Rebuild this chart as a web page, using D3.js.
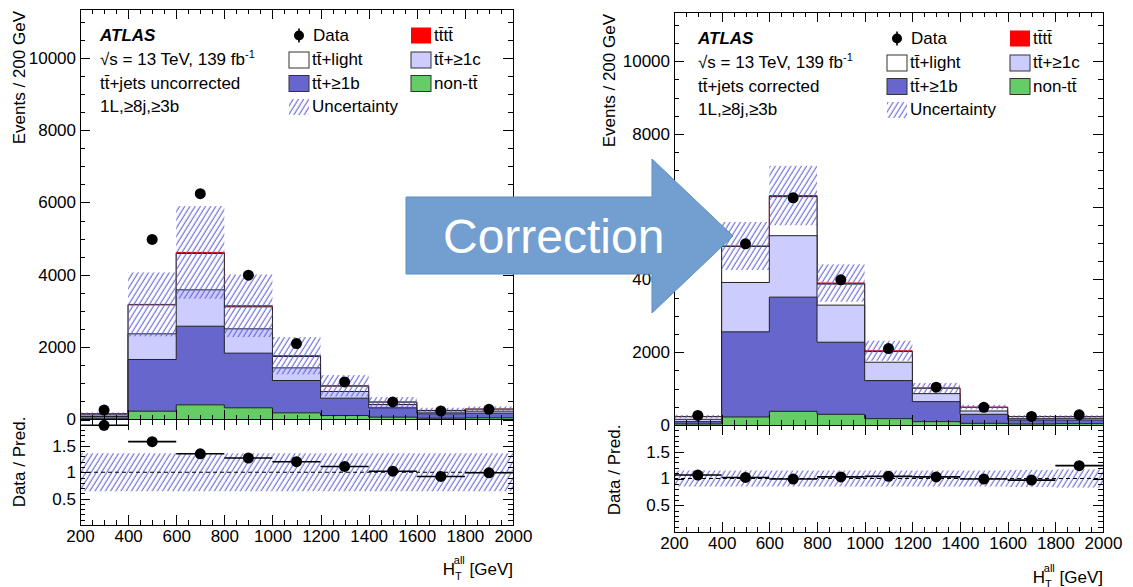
<!DOCTYPE html>
<html>
<head>
<meta charset="utf-8">
<script src="https://cdn.jsdelivr.net/npm/d3@7"></script>
<style>
body { margin: 0; background: #fff; }
svg { display: block; font-family: "Liberation Sans", Arial, sans-serif; }
</style>
</head>
<body>
<script>
// bins of H_T^all [GeV]
var binEdges = [200, 400, 600, 800, 1000, 1200, 1400, 1600, 1800, 2000];
var dataEvents = [262, 4980, 6245, 3990, 2100, 1040, 487, 235, 280];

// uncorrected prediction (events per bin, each component)
var nonttUnc   = [18, 230, 405, 323, 184, 110, 65, 37, 46];
var tt1bUnc    = [65, 1429, 2175, 1511, 894, 480, 258, 120, 129];
var tt1cUnc    = [46, 710, 1005, 673, 350, 184, 92, 46, 55];
var ttlightUnc = [28, 801, 1005, 608, 314, 148, 64, 46, 56];
var ttttUnc    = [2, 12, 30, 30, 22, 10, 5, 3, 3];
var errUnc     = [37, 885, 1280, 866, 516, 295, 138, 74, 74];
var ratioUnc   = [1.89, 1.58, 1.35, 1.27, 1.20, 1.11, 1.02, 0.92, 0.99];
var ratioErrUnc = [0.10, 0.03, 0.02, 0.02, 0.03, 0.04, 0.05, 0.07, 0.07];
var bandUnc    = [0.36, 0.36, 0.36, 0.36, 0.36, 0.36, 0.36, 0.36, 0.36];

// corrected prediction
var nonttCor   = [28, 220, 376, 294, 174, 92, 46, 28, 37];
var tt1bCor    = [64, 2340, 3138, 1981, 1046, 550, 248, 110, 101];
var tt1cCor    = [64, 1357, 1688, 1019, 505, 220, 91, 36, 45];
var ttlightCor = [73, 991, 1073, 578, 293, 147, 101, 55, 46];
var ttttCor    = [2, 12, 30, 30, 22, 10, 5, 3, 3];
var errCor     = [46, 661, 817, 513, 276, 138, 64, 37, 37];
var ratioCor   = [1.065, 1.02, 0.99, 1.03, 1.04, 1.03, 0.99, 0.97, 1.24];
var ratioErrCor = [0.02, 0.02, 0.02, 0.02, 0.03, 0.04, 0.05, 0.07, 0.07];
var bandCor    = [0.15, 0.15, 0.15, 0.15, 0.15, 0.15, 0.15, 0.16, 0.17];

var xTicks = [200, 400, 600, 800, 1000, 1200, 1400, 1600, 1800, 2000];
var yTicks = [0, 2000, 4000, 6000, 8000, 10000];
var rTicks = [0.5, 1, 1.5];

var colors = ["#66cc66", "#6666cc", "#ccccff", "#ffffff", "#ff0000"];

var svg = d3.select("body").append("svg")
	.attr("width", 1133)
	.attr("height", 587);

// hatch for uncertainty
svg.append("defs").append("pattern")
	.attr("id", "hatch")
	.attr("patternUnits", "userSpaceOnUse")
	.attr("width", 4.4).attr("height", 10)
	.attr("patternTransform", "rotate(32)")
	.append("line")
	.attr("x1", 2).attr("y1", -1).attr("x2", 2).attr("y2", 11)
	.attr("stroke", "#5858d8").attr("stroke-width", 1);

function drawPanel(p, comps, err, ratio, ratioErr, band) {
	var g = svg.append("g");
	var x = d3.scaleLinear().domain([200, 2000]).range([p.x0, p.x1]);
	var y = d3.scaleLinear().domain([0, 11350]).range([p.mid, p.top]);
	var yr = d3.scaleLinear().domain([0, 2]).range([p.bot, p.mid]);

	var clipId = "clip" + p.x0;
	svg.select("defs").append("clipPath").attr("id", clipId)
		.append("rect").attr("x", p.x0).attr("y", p.top)
		.attr("width", p.x1 - p.x0).attr("height", p.mid - p.top);

	// cumulative stack
	var cum = [];
	var run = binEdges.slice(1).map(function() { return 0; });
	comps.forEach(function(c) {
		run = run.map(function(v, i) { return v + c[i]; });
		cum.push(run.slice());
	});
	var total = cum[cum.length - 1];

	var area = d3.area().curve(d3.curveStepAfter)
		.x(function(d, i) { return x(binEdges[i]); })
		.y0(y(0))
		.y1(function(d) { return y(d); });
	var line = d3.line().curve(d3.curveStepAfter)
		.x(function(d, i) { return x(binEdges[i]); })
		.y(function(d) { return y(d); });

	var main = g.append("g").attr("clip-path", "url(#" + clipId + ")");
	for (var k = cum.length - 1; k >= 0; k--) {
		var vals = cum[k].concat([cum[k][cum[k].length - 1]]);
		main.append("path").attr("d", area(vals)).attr("fill", colors[k]);
		main.append("path").attr("d", line(vals)).attr("fill", "none")
			.attr("stroke", k == 4 ? "#e00000" : "#222").attr("stroke-width", 1);
	}
	// uncertainty
	main.selectAll("rect.unc").data(total).enter().append("rect")
		.attr("x", function(d, i) { return x(binEdges[i]); })
		.attr("width", function(d, i) { return x(binEdges[i + 1]) - x(binEdges[i]); })
		.attr("y", function(d, i) { return y(d + err[i]); })
		.attr("height", function(d, i) { return y(d - err[i]) - y(d + err[i]); })
		.attr("fill", "url(#hatch)");
	// data
	main.selectAll("circle").data(dataEvents).enter().append("circle")
		.attr("cx", function(d, i) { return x((binEdges[i] + binEdges[i + 1]) / 2); })
		.attr("cy", function(d) { return y(d); })
		.attr("r", 5.5).attr("fill", "#000");

	// ratio panel
	var rp = g.append("g");
	rp.selectAll("rect").data(band).enter().append("rect")
		.attr("x", function(d, i) { return x(binEdges[i]); })
		.attr("width", function(d, i) { return x(binEdges[i + 1]) - x(binEdges[i]); })
		.attr("y", function(d) { return yr(1 + d); })
		.attr("height", function(d) { return yr(1 - d) - yr(1 + d); })
		.attr("fill", "url(#hatch)");
	rp.append("line").attr("x1", x(200)).attr("x2", x(2000))
		.attr("y1", yr(1)).attr("y2", yr(1))
		.attr("stroke", "#000").attr("stroke-dasharray", "4,3");
	rp.selectAll("line.hb").data(ratio).enter().append("line")
		.attr("x1", function(d, i) { return x(binEdges[i]); })
		.attr("x2", function(d, i) { return x(binEdges[i + 1]); })
		.attr("y1", function(d) { return yr(d); })
		.attr("y2", function(d) { return yr(d); })
		.attr("stroke", "#000").attr("stroke-width", 1.6);
	rp.selectAll("line.vb").data(ratio).enter().append("line")
		.attr("x1", function(d, i) { return x((binEdges[i] + binEdges[i + 1]) / 2); })
		.attr("x2", function(d, i) { return x((binEdges[i] + binEdges[i + 1]) / 2); })
		.attr("y1", function(d, i) { return yr(Math.min(2, d + ratioErr[i])); })
		.attr("y2", function(d, i) { return yr(d - ratioErr[i]); })
		.attr("stroke", "#000").attr("stroke-width", 1.6);
	rp.selectAll("circle").data(ratio).enter().append("circle")
		.attr("cx", function(d, i) { return x((binEdges[i] + binEdges[i + 1]) / 2); })
		.attr("cy", function(d) { return yr(d); })
		.attr("r", 5.5).attr("fill", "#000");

	// axes
	var minorX = d3.range(200, 2001, 50).filter(function(v) { return v % 200 != 0; });
	var minorY = d3.range(0, 11350, 500).filter(function(v) { return v % 2000 != 0; });
	var minorR = d3.range(0.1, 2, 0.1).filter(function(v) { return Math.abs(v * 2 - Math.round(v * 2)) > 0.01; });

	function ax(axis, tx, ty, vals, size, labels, pad) {
		var a = axis.tickValues(vals).tickSizeInner(size).tickSizeOuter(0).tickPadding(pad || 4);
		if (!labels) a.tickFormat("");
		else a.tickFormat(labels);
		var sel = g.append("g").attr("transform", "translate(" + tx + "," + ty + ")").call(a);
		sel.select(".domain").remove();
		sel.attr("font-size", 17).attr("font-family", null);
		sel.selectAll("line").attr("stroke", "#000").attr("shape-rendering", "crispEdges");
		return sel;
	}
	var fmtR = function(d) { return d == 1 ? "1" : d3.format(".1f")(d); };
	// main panel
	ax(d3.axisLeft(y), p.x0, 0, yTicks, -10, d3.format("d"), 4);
	ax(d3.axisLeft(y), p.x0, 0, minorY, -5);
	ax(d3.axisRight(y), p.x1, 0, yTicks, -10);
	ax(d3.axisRight(y), p.x1, 0, minorY, -5);
	ax(d3.axisTop(x), 0, p.top, xTicks, -10);
	ax(d3.axisTop(x), 0, p.top, minorX, -5);
	ax(d3.axisBottom(x), 0, p.mid, xTicks, -10);
	ax(d3.axisBottom(x), 0, p.mid, minorX, -5);
	// ratio panel
	ax(d3.axisLeft(yr), p.x0, 0, rTicks, -10, fmtR, 4);
	ax(d3.axisLeft(yr), p.x0, 0, minorR, -5);
	ax(d3.axisRight(yr), p.x1, 0, rTicks, -10);
	ax(d3.axisRight(yr), p.x1, 0, minorR, -5);
	ax(d3.axisTop(x), 0, p.mid, xTicks, -10);
	ax(d3.axisTop(x), 0, p.mid, minorX, -5);
	ax(d3.axisBottom(x), 0, p.bot, xTicks, -10, d3.format("d"), 5);
	ax(d3.axisBottom(x), 0, p.bot, minorX, -5);

	// frames
	g.append("rect").attr("x", p.x0).attr("y", p.top)
		.attr("width", p.x1 - p.x0).attr("height", p.bot - p.top)
		.attr("fill", "none").attr("stroke", "#000").attr("shape-rendering", "crispEdges");
	g.append("line").attr("x1", p.x0).attr("x2", p.x1).attr("y1", p.mid).attr("y2", p.mid)
		.attr("stroke", "#000").attr("shape-rendering", "crispEdges");

	// axis titles
	g.append("text").attr("transform", "translate(" + p.ylx + "," + (p.top + 2) + ") rotate(-90)")
		.attr("text-anchor", "end").attr("font-size", 17).text("Events / 200 GeV");
	g.append("text").attr("transform", "translate(" + p.rlx + "," + p.rly + ") rotate(-90)")
		.attr("text-anchor", "middle").attr("font-size", 17).text("Data / Pred.");
	var xt = g.append("text").attr("x", p.x1).attr("y", p.xty)
		.attr("text-anchor", "end").attr("font-size", 17);
	xt.append("tspan").text("H");
	xt.append("tspan").attr("font-size", 11).attr("dy", 5).text("T");
	xt.append("tspan").attr("font-size", 11).attr("dx", -6.7).attr("dy", -16).text("all");
	xt.append("tspan").attr("dy", 11).text(" [GeV]");

	// labels and legend
	var lg = g.append("g").attr("font-size", 17);
	lg.append("text").attr("x", p.tx).attr("y", p.rows[0])
		.attr("font-weight", "bold").attr("font-style", "italic").text("ATLAS");
	var s = lg.append("text").attr("x", p.tx).attr("y", p.rows[1]);
	s.append("tspan").text("\u221As = 13 TeV, 139 fb");
	s.append("tspan").attr("font-size", 11).attr("dy", -7).text("-1");
	lg.append("text").attr("x", p.tx).attr("y", p.rows[2]).text(p.title);
	lg.append("text").attr("x", p.tx).attr("y", p.rows[3]).text("1L,\u22658j,\u22653b");

	// legend entries
	lg.append("line").attr("x1", p.c1 + 10).attr("x2", p.c1 + 10)
		.attr("y1", p.rows[0] - 12).attr("y2", p.rows[0] + 2).attr("stroke", "#000").attr("stroke-width", 1.6);
	lg.append("circle").attr("cx", p.c1 + 10).attr("cy", p.rows[0] - 5).attr("r", 5).attr("fill", "#000");
	lg.append("text").attr("x", p.c1 + 24).attr("y", p.rows[0]).text("Data");
	var entries = [
		{c: 0, r: 1, fill: colors[3], t: "tt\u0304+light"},
		{c: 0, r: 2, fill: colors[1], t: "tt\u0304+\u22651b"},
		{c: 0, r: 3, fill: "url(#hatch)", t: "Uncertainty", nostroke: true},
		{c: 1, r: 0, fill: colors[4], t: "tt\u0304tt\u0304", nostroke: true},
		{c: 1, r: 1, fill: colors[2], t: "tt\u0304+\u22651c"},
		{c: 1, r: 2, fill: colors[0], t: "non-tt\u0304"}
	];
	entries.forEach(function(e) {
		var bx = e.c == 0 ? p.c1 : p.c2;
		lg.append("rect").attr("x", bx).attr("y", p.rows[e.r] - 13)
			.attr("width", 20).attr("height", 16)
			.attr("fill", e.fill).attr("stroke", e.nostroke ? "none" : "#333");
		lg.append("text").attr("x", bx + 23).attr("y", p.rows[e.r]).text(e.t);
	});
}

drawPanel(
	{x0: 80, x1: 513, top: 9, mid: 419.5, bot: 525, ylx: 25, rlx: 25, rly: 462, xty: 575,
	 tx: 100, rows: [40.5, 65, 88.5, 112], c1: 289, c2: 411, title: "tt\u0304+jets uncorrected"},
	[nonttUnc, tt1bUnc, tt1cUnc, ttlightUnc, ttttUnc], errUnc, ratioUnc, ratioErrUnc, bandUnc);

drawPanel(
	{x0: 674, x1: 1103, top: 12, mid: 425, bot: 532, ylx: 615, rlx: 620, rly: 470, xty: 583,
	 tx: 698, rows: [43.5, 68, 91.5, 115], c1: 887, c2: 1010, title: "tt\u0304+jets corrected"},
	[nonttCor, tt1bCor, tt1cCor, ttlightCor, ttttCor], errCor, ratioCor, ratioErrCor, bandCor);

// arrow
var arrow = svg.append("g");
arrow.append("path")
	.attr("d", "M406,197 L652,197 L652,159 L733,236 L652,313 L652,274 L406,274 Z")
	.attr("fill", "#729fcf").attr("stroke", "#5f8dc2").attr("stroke-width", 1);
arrow.append("text").attr("x", 443).attr("y", 253)
	.attr("font-size", 48).attr("fill", "#fff").text("Correction");
</script>
</body>
</html>
